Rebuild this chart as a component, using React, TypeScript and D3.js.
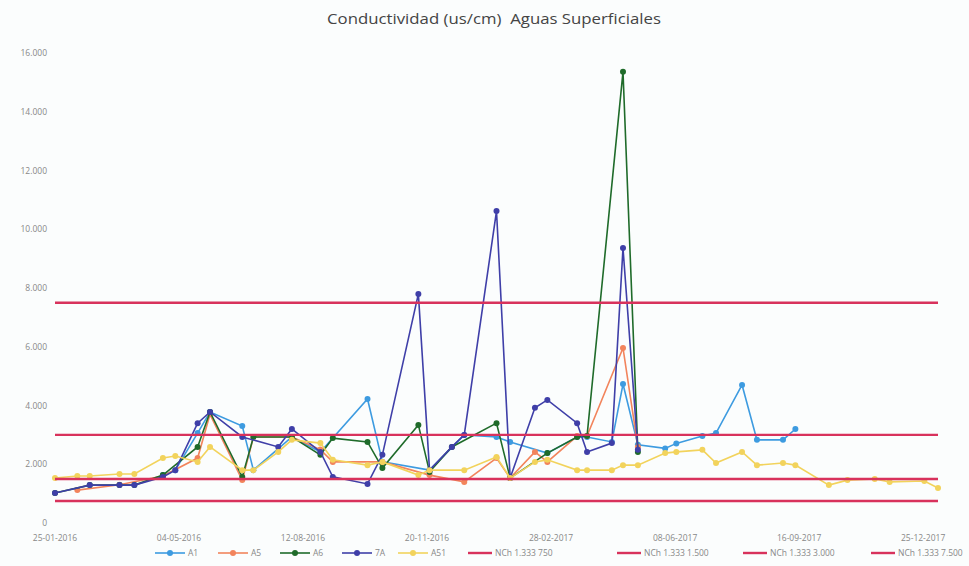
import React from "react";
import * as d3 from "d3";

const sampleDates = [
  "25-01-2016", "12-02-2016", "22-02-2016", "17-03-2016", "29-03-2016", "21-04-2016",
  "01-05-2016", "19-05-2016", "29-05-2016", "24-06-2016", "03-07-2016", "23-07-2016",
  "03-08-2016", "26-08-2016", "05-09-2016", "03-10-2016", "15-10-2016", "13-11-2016",
  "22-11-2016", "10-12-2016", "20-12-2016", "15-01-2017", "26-01-2017", "15-02-2017",
  "25-02-2017", "21-03-2017", "29-03-2017", "18-04-2017", "27-04-2017", "09-05-2017",
  "31-05-2017", "09-06-2017", "30-06-2017", "11-07-2017", "01-08-2017", "13-08-2017",
  "03-09-2017", "13-09-2017", "10-10-2017", "25-10-2017", "16-11-2017", "28-11-2017",
  "26-12-2017", "06-01-2018",
];

const _ = null;
const seriesA1 = [
  _, _, _, _, _, 1630, 1800, 3060, 3780, 3300, 1800, _, 2930, 2420, _, 4220, 2080, _,
  1800, _, 3000, 2930, 2760, _, 2380, 2930, 2930, 2760, 4730, 2660, 2540, 2710, 2960,
  3060, 4700, 2830, 2830, 3200, _, _, _, _, _, _,
];
const seriesA5 = [
  _, 1120, _, 1300, _, 1600, _, 2210, 3700, 1460, 2930, _, 2930, 2500, 2080, _, 2080, _,
  1630, _, 1400, 2210, 1530, 2420, 2080, 2960, 2960, _, 5960, 2590, _, _, _, _, _, _, _,
  _, _, _, _, _, _, _,
];
const seriesA6 = [
  1020, _, 1290, 1290, 1290, 1630, _, 2590, 3780, 1570, 2930, _, 2930, 2320, 2890, 2760,
  1870, 3340, 1740, 2590, _, 3400, 1530, _, 2380, 2930, 2960, _, 15360, 2420, _, _, _, _,
  _, _, _, _, _, _, _, _, _, _,
];
const series7A = [
  1020, _, 1290, 1290, 1290, 1570, 1800, 3400, 3780, 2930, _, 2590, 3200, 2420, 1570, 1330,
  2320, 7800, 1800, 2590, 3000, 10620, 1530, 3920, 4190, 3400, 2420, 2720, 9360, 2490, _, _,
  _, _, _, _, _, _, _, _, _, _, _, _,
];
const seriesA51 = [
  1530, 1600, 1600, 1670, 1670, 2210, 2280, 2080, 2590, 1800, 1800, 2420, 2830, 2720, 2150,
  1970, 2080, 1630, 1800, _, 1800, 2250, 1530, 2080, 2150, 1800, 1800, 1800, 1970, 1970,
  2380, 2420, 2490, 2040, 2420, 1970, 2040, 1970, 1290, 1460, 1500, 1400, 1430, 1190,
];

const seriesNames = ["A1", "A5", "A6", "7A", "A51"];
const seriesColors = ["#3d9be0", "#f2845c", "#1f6b2a", "#3f3fa8", "#f2d35c"];
const seriesValues = [seriesA1, seriesA5, seriesA6, series7A, seriesA51];

const limitNames = ["NCh 1.333 750", "NCh 1.333 1.500", "NCh 1.333 3.000", "NCh 1.333 7.500"];
const limitValues = [750, 1500, 3000, 7500];
const limitSpan = ["25-01-2016", "06-01-2018"];
const limitColor = "#d8325c";

const xTickLabels = [
  "25-01-2016", "04-05-2016", "12-08-2016", "20-11-2016",
  "28-02-2017", "08-06-2017", "16-09-2017", "25-12-2017",
];
const yTicks = [0, 2000, 4000, 6000, 8000, 10000, 12000, 14000, 16000];

const title = "Conductividad (us/cm)  Aguas Superficiales";

const parse = d3.timeParse("%d-%m-%Y");
const fmt = d3.formatLocale({ decimal: ",", thousands: ".", grouping: [3], currency: ["$", ""] }).format(",d");

const W = 969;
const H = 566;
const M = { left: 55, right: 938, top: 53, bottom: 523 };
const legendX = [155, 218, 280, 342, 398, 468, 617, 743, 871];

export default function App() {
  const x = d3.scaleTime()
    .domain([parse(limitSpan[0]) as Date, parse(limitSpan[1]) as Date])
    .range([M.left, M.right]);
  const y = d3.scaleLinear().domain([0, 16000]).range([M.bottom, M.top]);
  const dates = sampleDates.map((s) => parse(s) as Date);

  const line = d3.line<{ d: Date; v: number }>().x((p) => x(p.d)).y((p) => y(p.v));

  const font = "'Open Sans', 'Liberation Sans', sans-serif";

  return (
    <svg width={W} height={H} style={{ position: "absolute", left: 0, top: 0, background: "#fbfdfd" }}>
      <rect x={0} y={0} width={W} height={H} fill="#fbfdfd" />
      <text
        x={327}
        y={24}
        fontFamily={font}
        fontSize={14}
        fill="#444"
        textLength={334}
        lengthAdjust="spacingAndGlyphs"
        style={{ whiteSpace: "pre" }}
      >
        {title}
      </text>
      {yTicks.map((t) => (
        <text key={t} x={47} y={y(t) + 3} textAnchor="end" fontFamily={font} fontSize={8.5} fill="#888">
          {fmt(t)}
        </text>
      ))}
      {xTickLabels.map((s) => (
        <text key={s} x={x(parse(s) as Date)} y={541} textAnchor="middle" fontFamily={font} fontSize={8.5} fill="#888">
          {s}
        </text>
      ))}
      {seriesValues.map((vals, i) => {
        const pts = vals
          .map((v, j) => ({ d: dates[j], v: v as number }))
          .filter((p, j) => vals[j] != null);
        return (
          <g key={seriesNames[i]}>
            <path d={line(pts) || ""} fill="none" stroke={seriesColors[i]} strokeWidth={1.6} />
            {pts.map((p, j) => (
              <circle key={j} cx={x(p.d)} cy={y(p.v)} r={3} fill={seriesColors[i]} />
            ))}
          </g>
        );
      })}
      {limitValues.map((v) => (
        <line
          key={v}
          x1={x(parse(limitSpan[0]) as Date)}
          x2={x(parse(limitSpan[1]) as Date)}
          y1={y(v)}
          y2={y(v)}
          stroke={limitColor}
          strokeWidth={2.4}
        />
      ))}
      {seriesNames.map((n, i) => (
        <g key={n} transform={`translate(${legendX[i]},553)`}>
          <line x1={0} x2={30} y1={0} y2={0} stroke={seriesColors[i]} strokeWidth={1.6} />
          <circle cx={15} cy={0} r={3} fill={seriesColors[i]} />
          <text x={33} y={3} fontFamily={font} fontSize={8.5} fill="#888">{n}</text>
        </g>
      ))}
      {limitNames.map((n, i) => (
        <g key={n} transform={`translate(${legendX[5 + i]},553)`}>
          <line x1={0} x2={24} y1={0} y2={0} stroke={limitColor} strokeWidth={2.4} />
          <text x={27} y={3} fontFamily={font} fontSize={8.5} fill="#888">{n}</text>
        </g>
      ))}
    </svg>
  );
}
